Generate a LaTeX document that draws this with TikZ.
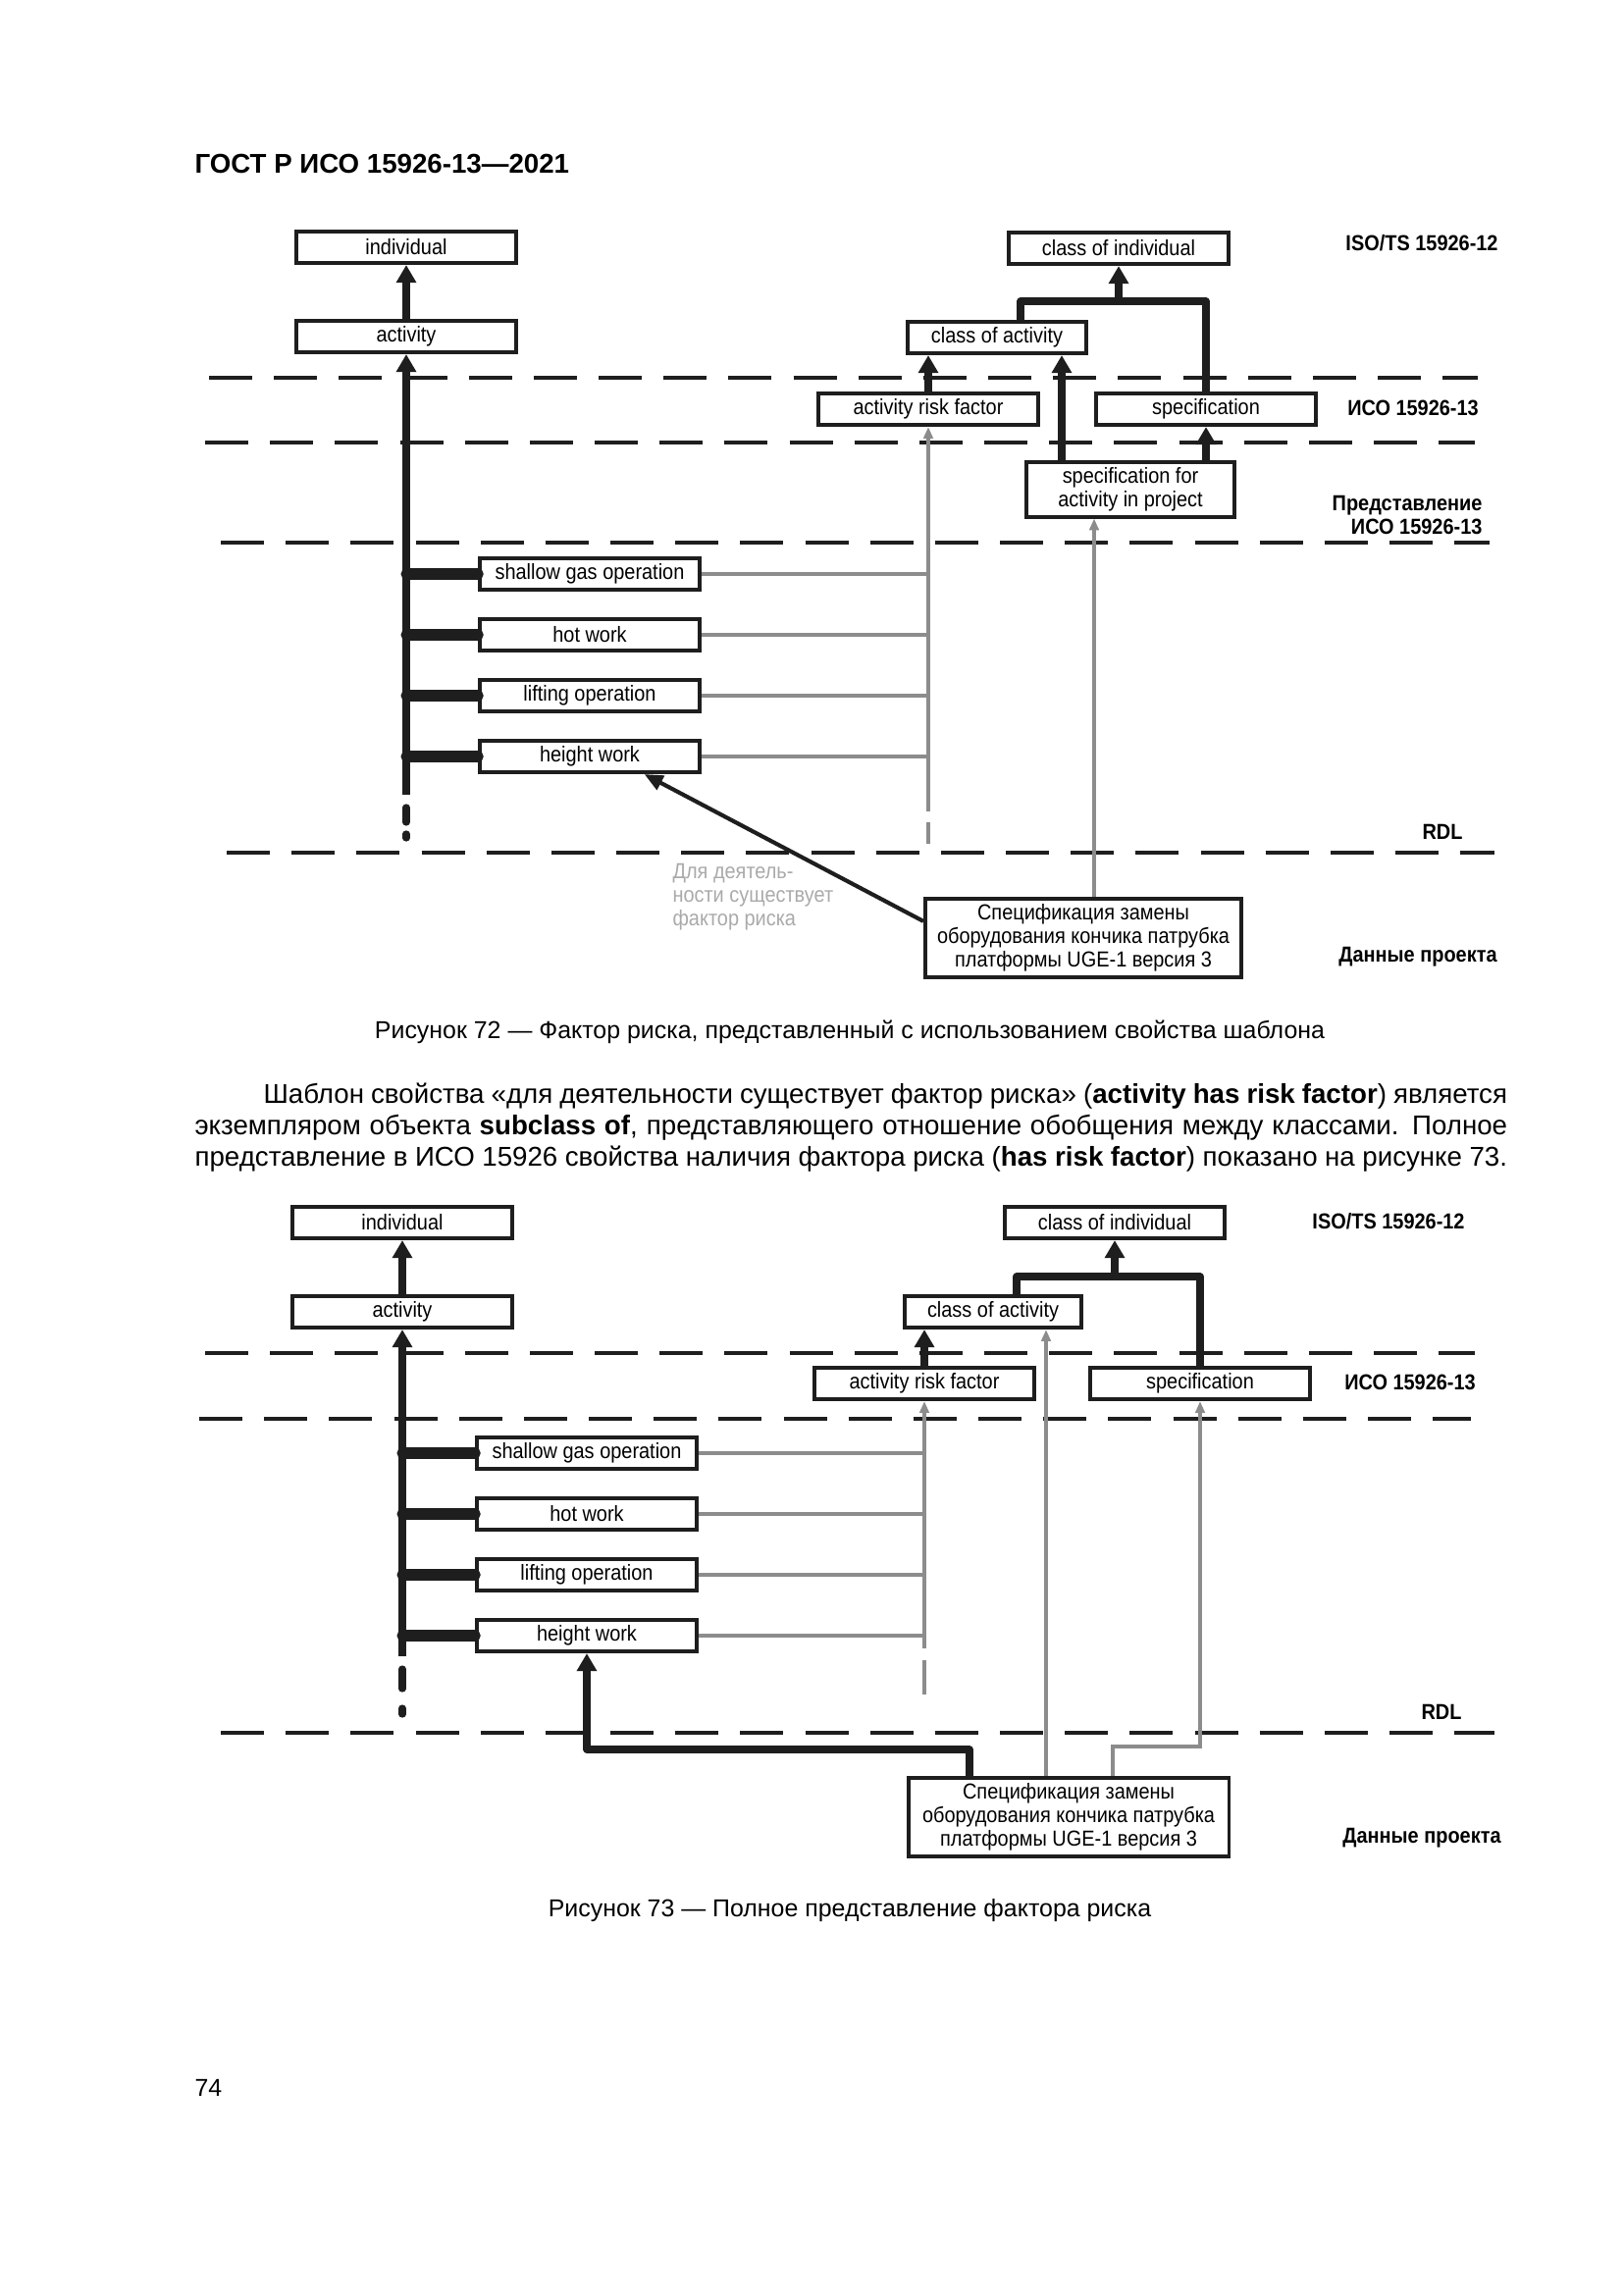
\documentclass[tikz,border=0pt]{standalone}
\usepackage{fontspec}
\setmainfont{Liberation Sans}
\newfontfamily\narrowsans[FakeStretch=0.9]{Liberation Sans}
\usepackage{tikz}
\usetikzlibrary{positioning,arrows.meta,calc}
\definecolor{cInk}  {HTML}{1e1e1e}
\definecolor{cGrey} {HTML}{8c8c8c}
\definecolor{cNote} {HTML}{aaaaaa}
\newcommand\dgfont{\narrowsans\fontsize{8}{8.6}\selectfont}
\newcommand\bodyfont{\fontsize{10}{12}\selectfont}

\tikzset{
  cls/.style={draw=cInk,line width=1.4pt,fill=white,minimum width=2.84cm,minimum height=0.41cm,inner sep=0pt,font=\dgfont,align=center},
  lvline/.style={draw=cInk,line width=1.6pt,dash pattern=on 0.56cm off 0.28cm},
  lvl/.style={font=\dgfont\bfseries,inner sep=0pt},
  thk/.style={draw=cInk,line width=2.6pt,line join=round},
  thkarr/.style={thk,-{Triangle[width=0.25cm,length=0.23cm]}},
  branch/.style={draw=cInk,line width=4pt,line cap=round},
  gry/.style={draw=cGrey,line width=1.2pt},
  gryarr/.style={gry,-{Triangle[width=0.12cm,length=0.15cm]}},
  txt/.style={inner sep=0pt,anchor=base west},
}

\begin{document}
\begin{tikzpicture}[x=0.012697cm,y=-0.012697cm]
\fill[white] (0,0) rectangle (1654,2339);
\useasboundingbox (0,0) rectangle (1654,2339);

\node[txt,font=\fontsize{10}{12}\selectfont\bfseries] (hdr) at (198,177) {ГОСТ Р ИСО 15926-13—2021};

% --- figure 72
\draw[lvline] (213,385) -- (1506,385);
\draw[lvline] (209,451) -- (1503,451);
\draw[lvline] (225,553) -- (1518,553);
\draw[lvline] (231,869) -- (1523,869);

\node[cls] (ind1) at (414,252) {individual};
\node[cls] (act1) at (414,343) {activity};
\node[cls] (coi1) at (1140,253) {class of individual};
\node[cls,minimum width=2.31cm] (coa1) at (1016,344) {class of activity};
\node[cls] (arf1) at (946,417) {activity risk factor};
\node[cls] (spc1) at (1229,417) {specification};
\node[cls,minimum width=2.7cm,minimum height=0.7cm] (sfa1) at (1152,499) {specification for\\activity in project};
\foreach \i/\y/\t in {1/585/shallow gas operation,2/647/hot work,3/709/lifting operation,4/771/height work}
  \node[cls] (op1\i) at (601,\y) {\t};
\node[cls,minimum width=4.09cm,minimum height=1.02cm] (sp1) at (1104,956) {Спецификация замены\\оборудования кончика патрубка\\платформы UGE-1 версия 3};

\node[lvl] (iso1) at (1449,248) {ISO/TS 15926-12};
\node[lvl] (rus1) at (1440,416) {ИСО 15926-13};
\node[lvl,align=right,anchor=east] (rep1) at (1511,525) {Представление\\ИСО 15926-13};
\node[lvl] (rdl1) at (1470,848) {RDL};
\node[lvl] (prj1) at (1445,975) {Данные проекта};
\node[anchor=north west,align=left,inner sep=0pt,text=cNote,font=\dgfont] (note1) at (685,880) {Для деятель-\\ности существует\\фактор риска};

\draw[thkarr] (act1) -- (ind1);
\coordinate (j1) at (1140,307);
\draw[thk] ($(coa1.north)+(24,0)$) |- (j1) -| (spc1.north);
\draw[thkarr] (j1) -- (coi1.south);
\draw[thkarr] (arf1.north) -- (arf1.north |- coa1.south);
\coordinate (s1) at ($(sfa1.north)+(-70,0)$);
\draw[thkarr] (s1) -- (s1 |- coa1.south);
\draw[thkarr] (spc1.south |- sfa1.north) -- (spc1.south);

\coordinate (t1) at (414,810);
\draw[thkarr] (t1) -- (act1.south);
\draw[thk,line cap=round] (414,823) -- (414,838);
\draw[thk,line cap=round] (414,850) -- (414,854);
\foreach \i in {1,...,4} {
  \draw[gry] (op1\i.east) -- (op1\i.east -| arf1.south);
  \draw[branch] (op1\i.west -| act1.south) -- (op1\i.west);
}
\coordinate (g1) at (946,827);
\draw[gryarr] (g1) -- (arf1.south);
\draw[gry] (946,838) -- (946,860);
\coordinate (u1) at ($(sp1.north)+(11,0)$);
\draw[gryarr] (u1) -- (u1 |- sfa1.south);
\draw[cInk,line width=1.5pt,-{Triangle[width=0.2cm,length=0.24cm]}] (sp1.174) -- (op14.342);

\node[txt,anchor=base,font=\fontsize{9}{11}\selectfont] (cap72) at (866,1058) {Рисунок 72 — Фактор риска, представленный с использованием свойства шаблона};

% --- text
\node[txt,font=\bodyfont] (par1) at (268,1124) {\makebox[16.09cm][s]{Шаблон свойства «для деятельности существует фактор риска» (\textbf{activity has risk factor}) является}};
\node[txt,font=\bodyfont] (par2) at (198,1156) {\makebox[16.98cm][s]{экземпляром объекта \textbf{subclass of}, представляющего отношение обобщения между классами. Полное}};
\node[txt,font=\bodyfont] (par3) at (198,1188) {\makebox[16.98cm][s]{представление в ИСО 15926 свойства наличия фактора риска (\textbf{has risk factor}) показано на рисунке 73.}};

% --- figure 73
\draw[lvline] (209,1379) -- (1503,1379);
\draw[lvline] (203,1446) -- (1499,1446);
\draw[lvline] (225,1766) -- (1523,1766);

\node[cls] (ind2) at (410,1246) {individual};
\node[cls] (act2) at (410,1337) {activity};
\node[cls] (coi2) at (1136,1246) {class of individual};
\node[cls,minimum width=2.29cm] (coa2) at (1012,1337) {class of activity};
\node[cls] (arf2) at (942,1410) {activity risk factor};
\node[cls] (spc2) at (1223,1410) {specification};
\foreach \i/\y/\t in {1/1481/shallow gas operation,2/1543/hot work,3/1605/lifting operation,4/1667/height work}
  \node[cls] (op2\i) at (598,\y) {\t};
\node[cls,minimum width=4.15cm,minimum height=1.02cm] (sp2) at (1089,1852) {Спецификация замены\\оборудования кончика патрубка\\платформы UGE-1 версия 3};

\node[lvl] (iso2) at (1415,1245) {ISO/TS 15926-12};
\node[lvl] (rus2) at (1437,1409) {ИСО 15926-13};
\node[lvl] (rdl2) at (1469,1745) {RDL};
\node[lvl] (prj2) at (1449,1873) {Данные проекта};

\draw[thkarr] (act2) -- (ind2);
\coordinate (j2) at (1136,1301);
\draw[thk] ($(coa2.north)+(24,0)$) |- (j2) -| (spc2.north);
\draw[thkarr] (j2) -- (coi2.south);
\draw[thkarr] (arf2.north) -- (arf2.north |- coa2.south);

\coordinate (t2) at (410,1688);
\draw[thkarr] (t2) -- (act2.south);
\draw[thk,line cap=round] (410,1701) -- (410,1721);
\draw[thk,line cap=round] (410,1741) -- (410,1747);
\foreach \i in {1,...,4} {
  \draw[gry] (op2\i.east) -- (op2\i.east -| arf2.south);
  \draw[branch] (op2\i.west -| act2.south) -- (op2\i.west);
}
\coordinate (g2) at (942,1680);
\draw[gryarr] (g2) -- (arf2.south);
\draw[gry] (942,1692) -- (942,1727);
\coordinate (u2) at ($(sp2.north)+(-23,0)$);
\draw[gryarr] (u2) -- (u2 |- coa2.south);
\coordinate (v2) at ($(sp2.north)+(45,0)$);
\coordinate (w2) at (1223,1780);
\draw[gryarr] (v2) |- (w2) -- (spc2.south);
\coordinate (k2) at ($(sp2.north)+(-101,0)$);
\coordinate (b2) at (598,1783);
\draw[thkarr] (k2) |- (b2) -- (op24.south);

\node[txt,anchor=base,font=\fontsize{9}{11}\selectfont] (cap73) at (866,1953) {Рисунок 73 — Полное представление фактора риска};

\node[txt,font=\fontsize{9}{11}\selectfont] (pg) at (198,2136) {74};
\end{tikzpicture}
\end{document}
